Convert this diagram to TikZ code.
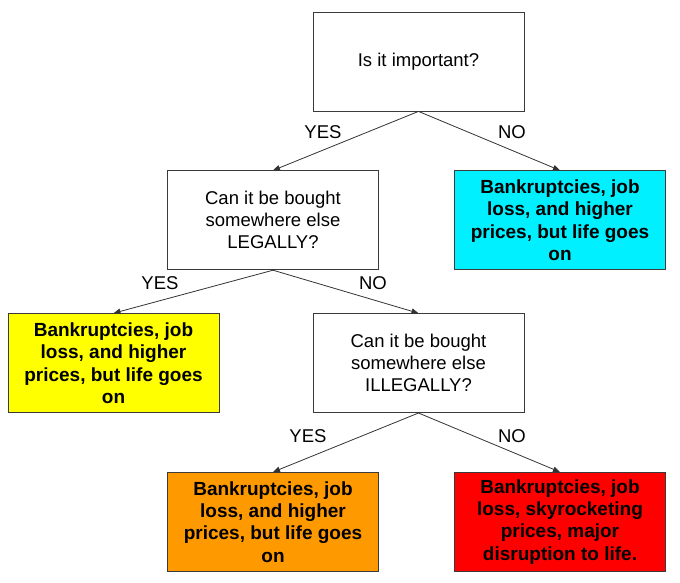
\documentclass[tikz,border=0pt]{standalone}
\usepackage{fontspec}
\setmainfont{Liberation Sans}
\usepackage{xcolor}
\usetikzlibrary{positioning,arrows.meta,calc}
\definecolor{cLine}{HTML}{333333}
\definecolor{cEdge}{HTML}{3A3A3A}
\definecolor{cCyan}{HTML}{00F0FF}
\definecolor{cYell}{HTML}{FFFF00}
\definecolor{cOrng}{HTML}{FF9900}
\definecolor{cRed}{HTML}{FF0000}

\begin{document}
\begin{tikzpicture}[
  x=1pt, y=1pt,
  >={Triangle[length=7pt, width=5.5pt]},
  q/.style={draw=cEdge, fill=white, line width=0.8pt, align=center,
            minimum width=211pt, minimum height=99pt, inner sep=2pt,
            font=\fontsize{18.5}{22}\selectfont},
  ans/.style={q, font=\bfseries\fontsize{19}{22.3}\selectfont},
  fl/.style={->, draw=cLine, line width=0.8pt},
  lbl/.style={inner sep=0pt, font=\fontsize{18.5}{22}\selectfont},
  node distance=43pt]

\useasboundingbox (0,0) rectangle (680,-582);

% ================= level 1 =================
\node[q] (imp) at (418.5,-61.5) {Is it important?};

% ================= level 2 =================
\node[q, below=59pt of imp, xshift=-145.5pt] (legal)
  {Can it be bought\\somewhere else\\LEGALLY?};
\node[ans, fill=cCyan, below=59pt of imp, xshift=141.5pt] (endA)
  {Bankruptcies, job\\loss, and higher\\prices, but life goes\\on};

% ================= level 3 =================
\node[ans, fill=cYell, below=of legal, xshift=-159.5pt] (endB)
  {Bankruptcies, job\\loss, and higher\\prices, but life goes\\on};
\node[q, below=of legal, xshift=145.5pt] (illegal)
  {Can it be bought\\somewhere else\\ILLEGALLY?};

% ================= level 4 =================
\node[ans, fill=cOrng, below=59pt of illegal, xshift=-145.5pt] (endC)
  {Bankruptcies, job\\loss, and higher\\prices, but life goes\\on};
\node[ans, fill=cRed, below=59pt of illegal, xshift=141.5pt] (endD)
  {Bankruptcies, job\\loss, skyrocketing\\prices, major\\disruption to life.};

% ---- connectors ----
\draw[fl] (imp.south) -- (legal.north);
\draw[fl] (imp.south) -- (endA.north);
\draw[fl] (legal.south) -- (endB.north);
\draw[fl] (legal.south) -- (illegal.north);
\draw[fl] (illegal.south) -- (endC.north);
\draw[fl] (illegal.south) -- (endD.north);

% ---- branch labels ----
\node[lbl] (yes1) at ($(imp.south)+(-95.5,-21)$) {YES};
\node[lbl] (no1) at ($(imp.south)+(93.5,-21)$) {NO};
\node[lbl] (yes2) at ($(legal.south)+(-113,-13)$) {YES};
\node[lbl] (no2) at ($(legal.south)+(100,-13)$) {NO};
\node[lbl] (yes3) at ($(illegal.south)+(-110.5,-23)$) {YES};
\node[lbl] (no3) at ($(illegal.south)+(93.5,-23)$) {NO};
\end{tikzpicture}
\end{document}
